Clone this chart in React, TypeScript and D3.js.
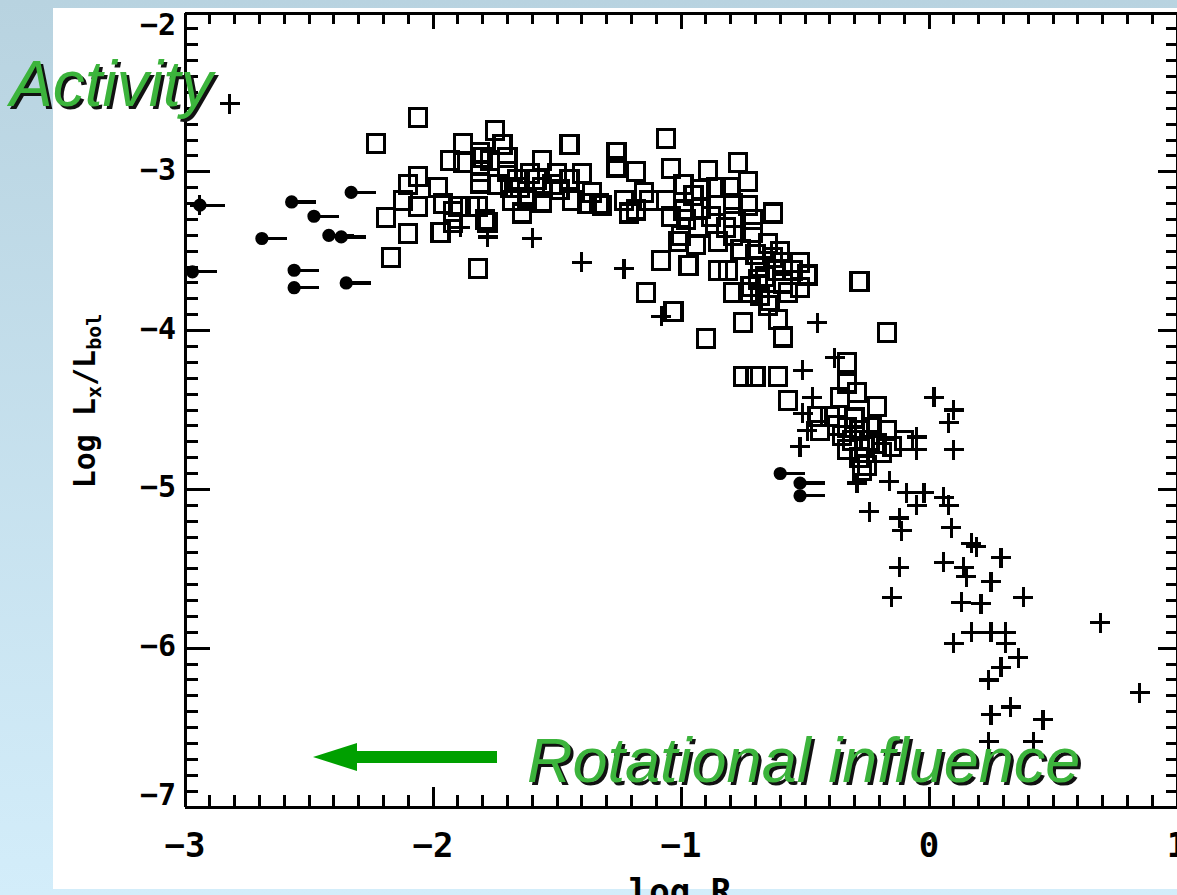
import React from 'react';
import * as d3 from 'd3';

const xDomain: [number, number] = [-3, 1];
const yDomain: [number, number] = [-7, -2];
const xMajorTicks = [-3, -2, -1, 0, 1];
const yMajorTicks = [-7, -6, -5, -4, -3, -2];
const xTickLabels = ['−3', '−2', '−1', '0', '1'];
const yTickLabels = ['−7', '−6', '−5', '−4', '−3', '−2'];

// open squares (log Ro, log Lx/Lbol)
const squares: [number, number][] = [
  [-2.06, -2.66], [-2.23, -2.82], [-2.19, -3.29], [-2.17, -3.54], [-1.82, -3.61], [-2.10, -3.39],
  [-2.10, -3.08], [-2.06, -3.03], [-2.12, -3.18], [-1.98, -3.10], [-1.97, -3.38], [-1.93, -2.93],
  [-1.88, -2.82], [-1.80, -2.91], [-1.75, -2.74], [-1.72, -2.83], [-1.81, -3.07], [-1.90, -3.22],
  [-1.92, -3.32], [-1.85, -3.22], [-1.79, -3.30], [-1.64, -3.26], [-1.62, -3.16], [-1.56, -2.93],
  [-1.66, -3.05], [-1.61, -3.01], [-1.45, -2.83], [-1.45, -3.05], [-1.70, -2.91], [-1.77, -2.93],
  [-1.69, -3.10], [-1.88, -2.94], [-1.81, -2.88], [-2.06, -3.22], [-1.82, -3.22], [-1.81, -3.00],
  [-1.74, -3.08], [-1.68, -3.18], [-1.62, -3.18], [-1.56, -3.10], [-1.56, -3.19], [-1.50, -3.01],
  [-1.49, -3.11], [-1.44, -3.18], [-1.40, -3.01], [-1.36, -3.13], [-1.33, -3.20], [-1.38, -3.20],
  [-1.78, -3.32], [-1.26, -2.88], [-1.26, -2.97], [-1.06, -2.79], [-1.18, -3.00], [-1.04, -2.98],
  [-0.89, -2.99], [-0.77, -2.94], [-0.73, -3.06], [-1.15, -3.13], [-1.13, -3.18], [-1.06, -3.18],
  [-0.99, -3.08], [-0.92, -3.11], [-0.86, -3.10], [-0.80, -3.10], [-0.79, -3.20], [-0.73, -3.21],
  [-0.92, -3.23], [-0.86, -3.21], [-0.99, -3.24], [-1.04, -3.28], [-0.98, -3.30], [-0.93, -3.35],
  [-0.79, -3.29], [-0.71, -3.30], [-0.71, -3.38], [-1.00, -3.40], [-0.94, -3.46], [-0.79, -3.40],
  [-0.85, -3.44], [-1.01, -3.44], [-0.63, -3.26], [-0.65, -3.45], [-0.63, -3.54], [-0.59, -3.57],
  [-0.52, -3.57], [-0.49, -3.65], [-0.59, -3.70], [-0.52, -3.73], [-0.64, -3.81], [-0.57, -3.76],
  [-0.61, -3.93], [-0.59, -4.04], [-0.75, -3.95], [-0.79, -3.76], [-0.73, -3.76], [-0.85, -3.62],
  [-0.81, -3.62], [-0.97, -3.59], [-1.08, -3.56], [-1.14, -3.76], [-1.03, -3.88], [-0.90, -4.05],
  [-1.32, -3.21], [-1.23, -3.18], [-1.21, -3.26], [-1.18, -3.24], [-0.28, -3.69], [-0.17, -4.01],
  [-0.75, -4.29], [-0.70, -4.29], [-0.61, -4.29], [-0.57, -4.44], [-0.33, -4.20], [-0.21, -4.48],
  [-0.33, -4.33], [-0.29, -4.39], [-0.36, -4.42], [-0.44, -4.63], [-0.45, -4.54], [-0.40, -4.54],
  [-0.33, -4.61], [-0.28, -4.63], [-0.24, -4.69], [-0.33, -4.75], [-0.28, -4.80], [-0.19, -4.77],
  [-0.15, -4.73], [-0.10, -4.69], [-0.27, -4.88], [-0.21, -4.71], [-0.23, -4.61], [-0.17, -4.63],
  [-0.31, -4.69], [-0.69, -3.68], [-0.65, -3.84], [-0.76, -3.49],
  [-0.70, -3.52], [-0.68, -3.60], [-0.66, -3.66], [-0.62, -3.62], [-0.60, -3.50], [-0.55, -3.62],
  [-0.72, -3.72], [-0.68, -3.78], [-1.70, -3.00], [-1.65, -3.10], [-1.58, -3.05], [-1.52, -3.08],
  [-1.92, -3.25], [-1.96, -3.20], [-0.95, -3.15], [-0.88, -3.28], [-0.82, -3.35],
  [-0.37, -4.60], [-0.30, -4.55], [-0.26, -4.73], [-0.35, -4.66], [-0.25, -4.85],
];

// plus signs
const pluses: [number, number][] = [
  [-2.82, -2.57], [-1.89, -3.35], [-1.78, -3.41], [-1.60, -3.42], [-1.40, -3.57], [-1.23, -3.61],
  [-1.08, -3.91], [-0.45, -3.95], [-0.38, -4.17], [-0.51, -4.25], [0.02, -4.42], [0.10, -4.50],
  [0.08, -4.58], [0.10, -4.75], [-0.05, -4.67], [-0.05, -4.75], [-0.52, -4.73], [-0.47, -4.42],
  [-0.51, -4.52], [-0.49, -4.63], [-0.16, -4.95], [-0.24, -5.14], [-0.09, -5.02], [-0.02, -5.02],
  [0.06, -5.05], [0.08, -5.10], [-0.05, -5.10], [-0.12, -5.18], [-0.11, -5.26], [0.09, -5.24],
  [0.17, -5.34], [0.19, -5.36], [0.29, -5.43], [0.06, -5.46], [0.14, -5.49], [0.15, -5.55],
  [0.25, -5.58], [-0.12, -5.49], [-0.15, -5.68], [0.13, -5.71], [0.21, -5.72], [0.38, -5.68],
  [0.69, -5.84], [0.10, -5.97], [0.17, -5.90], [0.25, -5.90], [0.31, -5.90], [0.31, -5.97],
  [0.36, -6.06], [0.29, -6.12], [0.24, -6.20], [0.85, -6.28], [0.25, -6.42], [0.33, -6.37],
  [0.46, -6.45], [0.24, -6.59], [0.42, -6.59], [-0.29, -4.96], [-2.94, -3.21],
];

// filled dots with limit bar to the right
const limits: [number, number][] = [
  [-2.33, -3.13], [-2.57, -3.19], [-2.48, -3.28], [-2.42, -3.40], [-2.37, -3.41], [-2.69, -3.42],
  [-2.56, -3.62], [-2.56, -3.73], [-2.35, -3.70], [-2.97, -3.63], [-0.60, -4.90], [-0.52, -4.96],
  [-0.52, -5.04], [-2.94, -3.21],
];
const limitBarLength = 0.1;

const W = 1177;
const H = 895;

function ShadowText(props: { x: number; y: number; size: number; children: string }) {
  const { x, y, size, children } = props;
  const common = {
    fontFamily: '"Liberation Sans", Arial, sans-serif',
    fontStyle: 'italic' as const,
    fontSize: size,
  };
  return (
    <g>
      <text x={x + 3} y={y + 3} fill="#111" {...common}>{children}</text>
      <text x={x} y={y} fill="#3cb43c" {...common}>{children}</text>
    </g>
  );
}

export default function App() {
  const x = d3.scaleLinear().domain(xDomain).range([185, 1177]);
  const y = d3.scaleLinear().domain(yDomain).range([807, 13]);
  const xMinor = d3.range(-30, 11).map((i) => i / 10);
  const yMinor = d3.range(-70, -19).map((i) => i / 10);
  const isMajor = (v: number) => Math.abs(v - Math.round(v)) < 1e-6;
  const x0 = x(xDomain[0]);
  const x1 = x(xDomain[1]);
  const yTop = y(yDomain[1]);
  const yBot = y(yDomain[0]);
  const tickFont = '"DejaVu Sans Mono", "Liberation Mono", monospace';

  return (
    <svg width={W} height={H} style={{ position: 'absolute', left: 0, top: 0 }}>
      <defs>
        <linearGradient id="bg" x1="0" y1="0" x2="0" y2="1">
          <stop offset="0" stopColor="#b8d3e0" />
          <stop offset="1" stopColor="#d3edfa" />
        </linearGradient>
      </defs>
      <rect x={0} y={0} width={W} height={H} fill="url(#bg)" />
      <rect x={53} y={8} width={W - 53} height={881} fill="#fff" />

      {/* frame */}
      <g stroke="#000" strokeWidth={3} fill="none" shapeRendering="crispEdges">
        <line x1={x0} y1={yTop} x2={x1} y2={yTop} />
        <line x1={x0} y1={yBot} x2={x1} y2={yBot} />
        <line x1={x0} y1={yTop} x2={x0} y2={yBot} />
        <line x1={x1} y1={yTop} x2={x1} y2={yBot} />
        {xMinor.map((v, i) => {
          const len = isMajor(v) ? 20 : 12;
          const lenT = isMajor(v) ? 16 : 11;
          return (
            <g key={'xt' + i}>
              <line x1={x(v)} x2={x(v)} y1={yBot} y2={yBot - len} />
              <line x1={x(v)} x2={x(v)} y1={yTop} y2={yTop + lenT} />
            </g>
          );
        })}
        {yMinor.map((v, i) => {
          const len = isMajor(v) ? 25 : 13;
          const lenR = isMajor(v) ? 19 : 11;
          return (
            <g key={'yt' + i}>
              <line x1={x0} x2={x0 + len} y1={y(v)} y2={y(v)} />
              <line x1={x1} x2={x1 - lenR} y1={y(v)} y2={y(v)} />
            </g>
          );
        })}
      </g>

      {/* tick labels */}
      {xMajorTicks.map((v, i) => (
        <text key={'xl' + i} x={x(v)} y={857} textAnchor="middle" fontFamily={tickFont}
          fontWeight="bold" fontSize={34}>{xTickLabels[i]}</text>
      ))}
      {yMajorTicks.map((v, i) => {
        const cy = Math.min(Math.max(y(v), 27), 797);
        return (
          <text key={'yl' + i} x={176} y={cy + 8} textAnchor="end" fontFamily={tickFont}
            fontWeight="bold" fontSize={30}>{yTickLabels[i]}</text>
        );
      })}

      {/* axis titles */}
      <text x={680} y={903} textAnchor="middle" fontFamily={tickFont} fontWeight="bold" fontSize={34}>
        log R
      </text>
      <g transform="translate(95,401) rotate(-90)">
        <text x={0} y={0} textAnchor="middle" fontFamily={tickFont} fontWeight="bold" fontSize={30}>
          Log L
          <tspan fontSize={20} dy={6}>x</tspan>
          <tspan dy={-6}>/L</tspan>
          <tspan fontSize={20} dy={6}>bol</tspan>
        </text>
      </g>

      {/* data */}
      <g stroke="#000" strokeWidth={3.2} fill="none" shapeRendering="crispEdges">
        {squares.map((d, i) => (
          <rect key={'s' + i} x={x(d[0]) - 8.5} y={y(d[1]) - 9} width={17} height={18} />
        ))}
        {pluses.map((d, i) => (
          <path key={'p' + i}
            d={`M${x(d[0]) - 10},${y(d[1])}H${x(d[0]) + 10}M${x(d[0])},${y(d[1]) - 10}V${y(d[1]) + 10}`} />
        ))}
        {limits.map((d, i) => (
          <g key={'l' + i}>
            <line x1={x(d[0])} x2={x(d[0] + limitBarLength)} y1={y(d[1])} y2={y(d[1])} />
            <circle cx={x(d[0])} cy={y(d[1])} r={5} fill="#000" shapeRendering="auto" />
          </g>
        ))}
      </g>

      {/* annotations */}
      <ShadowText x={10} y={106} size={64}>Activity</ShadowText>
      <polygon points="313,757 357,743 357,771" fill="#00a000" />
      <rect x={355} y={751} width={142} height={12} fill="#00a000" />
      <ShadowText x={527} y={782} size={63}>Rotational influence</ShadowText>
    </svg>
  );
}
